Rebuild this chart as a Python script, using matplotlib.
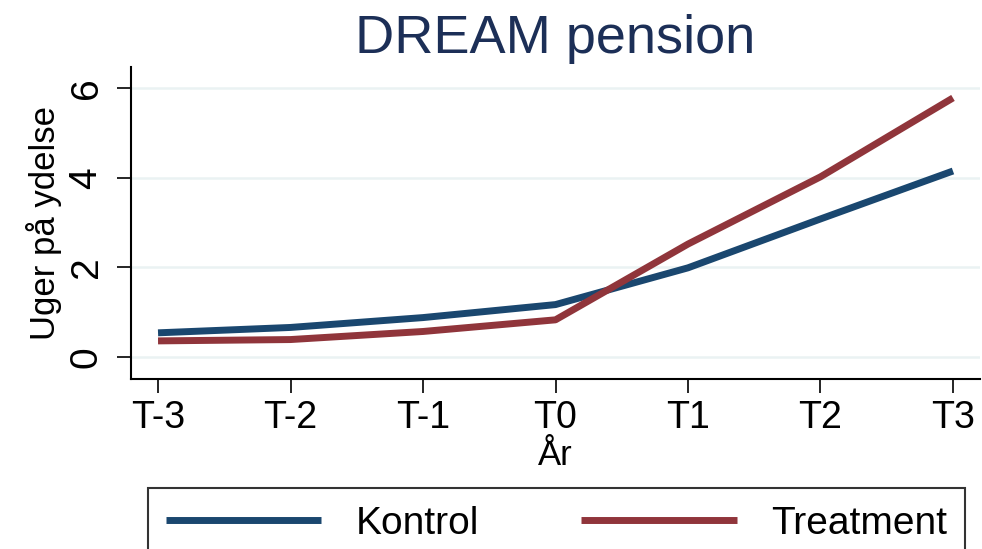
import numpy as np
import matplotlib
matplotlib.use("Agg")
import matplotlib.pyplot as plt

# Data
perioder = ["T-3", "T-2", "T-1", "T0", "T1", "T2", "T3"]
kontrol = [0.54, 0.66, 0.88, 1.17, 1.99, 3.08, 4.15]
treatment = [0.36, 0.39, 0.57, 0.83, 2.52, 4.02, 5.78]
yticks = [0, 2, 4, 6]

plt.rcParams['font.family'] = ['Liberation Sans', 'DejaVu Sans']

fig = plt.figure(figsize=(9.82, 5.49), dpi=100)
W, H = 982, 549
ax = fig.add_axes([131 / W, 1 - 379 / H, (980 - 131) / W, (379 - 67) / H])

x = np.arange(len(perioder))
l1, = ax.plot(x, kontrol, color="#1a476f", lw=5, solid_capstyle="butt", zorder=3)
l2, = ax.plot(x, treatment, color="#90353b", lw=5, solid_capstyle="butt", zorder=3)

ax.set_xlim(-0.204, 6.204)
ax.set_ylim(-0.49, 6.47)

# akser
for s in ["top", "right"]:
    ax.spines[s].set_visible(False)
for s in ["left", "bottom"]:
    ax.spines[s].set_linewidth(1.5)

ax.set_xticks(x)
ax.set_xticklabels(perioder, fontsize=27)
ax.set_yticks(yticks)
ax.set_yticklabels([str(v) for v in yticks], fontsize=28, rotation=90, va="center")
ax.tick_params(axis="both", direction="out", length=10, width=1.2)
ax.tick_params(axis="x", pad=5)
ax.tick_params(axis="y", pad=9)

ax.yaxis.grid(True, color="#eaf2f3", lw=1.8, zorder=0)
ax.set_axisbelow(True)

ax.set_xlabel("År", fontsize=25, labelpad=2)
ax.set_ylabel("Uger på ydelse", fontsize=25)
ax.yaxis.set_label_coords(-0.081, 0.5)

ax.set_title("DREAM pension", fontsize=39, color="#1c2f57", pad=10)

leg = fig.legend([l1, l2], ["Kontrol", "Treatment"], loc="upper left",
                 bbox_to_anchor=(148 / W, 1 - 488 / H, (965 - 148) / W, 0),
                 mode="expand", ncol=2, fontsize=28, frameon=True,
                 fancybox=False, edgecolor="black", borderpad=0.45,
                 borderaxespad=0, handlelength=4.0, handletextpad=0.9)
leg.get_frame().set_linewidth(1.5)

fig.savefig("out.png", dpi=100)
